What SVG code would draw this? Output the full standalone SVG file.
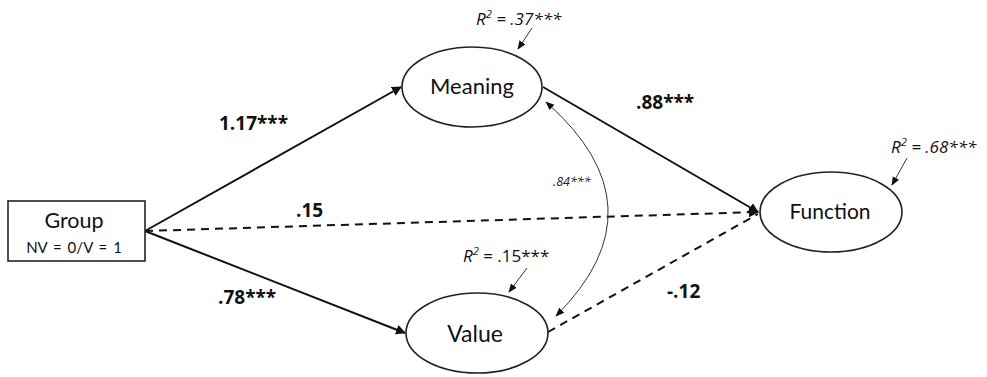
<svg xmlns="http://www.w3.org/2000/svg" width="987" height="377" viewBox="0 0 987 377">
<style>
.node{fill:#fff;stroke:#222;stroke-width:1.6}
.lbl{font-family:Lato,"Open Sans",sans-serif;fill:#111}
.coef{font-family:"Open Sans",sans-serif;font-weight:bold;font-size:19px;fill:#111}
.r2{font-family:"Open Sans",sans-serif;font-style:italic;font-size:17px;fill:#111}
.solid{stroke:#111;stroke-width:2;fill:none}
.dash{stroke:#111;stroke-width:2;fill:none;stroke-dasharray:8,6}
.thin{stroke:#333;stroke-width:1;fill:none}
</style>
<defs>
<marker id="ah" viewBox="0 0 10 10" refX="9" refY="5" markerWidth="5" markerHeight="5" orient="auto" markerUnits="strokeWidth"><path d="M0,0 L10,5 L0,10 z" fill="#111"/></marker>
<marker id="ahs" viewBox="0 0 10 10" refX="9" refY="5" markerWidth="9" markerHeight="9" orient="auto" markerUnits="strokeWidth"><path d="M0,1 L10,5 L0,9 z" fill="#111"/></marker>
<marker id="ahs0" viewBox="0 0 10 10" refX="1" refY="5" markerWidth="9" markerHeight="9" orient="auto" markerUnits="strokeWidth"><path d="M10,1 L0,5 L10,9 z" fill="#111"/></marker>
</defs>
<g id="connectors">
<line class="solid" x1="145" y1="231" x2="401" y2="87" marker-end="url(#ah)"/>
<line class="solid" x1="145" y1="231" x2="405" y2="333" marker-end="url(#ah)"/>
<line class="solid" x1="543" y1="87" x2="758" y2="212" marker-end="url(#ah)"/>
<line class="dash" x1="145" y1="231" x2="758" y2="212" marker-end="url(#ah)"/>
<line class="dash" x1="548" y1="332" x2="758" y2="214"/>
<path class="thin" d="M546,102 Q665,207 556,316" marker-start="url(#ahs0)" marker-end="url(#ahs)"/>
<line class="thin" x1="532" y1="28" x2="518" y2="49" marker-end="url(#ahs)"/>
<line class="thin" x1="907" y1="158" x2="892" y2="185" marker-end="url(#ahs)"/>
<line class="thin" x1="527" y1="268" x2="509" y2="292" marker-end="url(#ahs)"/>
</g>
<g id="group">
<rect class="node" x="8" y="201" width="137" height="60"/>
<text class="lbl" x="74" y="228" font-size="21.5" text-anchor="middle">Group</text>
<text class="lbl" x="74" y="253" font-size="15" word-spacing="2" text-anchor="middle">NV = 0/V = 1</text>
</g>
<g id="meaning">
<ellipse class="node" cx="472" cy="87" rx="70" ry="40"/>
<text class="lbl" x="472" y="94" font-size="22" text-anchor="middle">Meaning</text>
</g>
<g id="value">
<ellipse class="node" cx="477" cy="333" rx="71" ry="40"/>
<text class="lbl" x="475" y="342" font-size="23" text-anchor="middle">Value</text>
</g>
<g id="function">
<ellipse class="node" cx="831" cy="212" rx="71" ry="40"/>
<text class="lbl" x="830" y="219" font-size="21" text-anchor="middle">Function</text>
</g>
<g id="labels">
<text class="coef" x="219" y="130">1.17***</text>
<text class="coef" x="296" y="217">.15</text>
<text class="coef" x="218" y="304">.78***</text>
<text class="coef" x="636" y="109">.88***</text>
<text class="coef" x="667" y="298">-.12</text>
<text x="553" y="186" font-family="Open Sans,sans-serif" font-size="12.5" font-style="italic" fill="#222">.84***</text>
<text class="r2" x="476" y="25">R<tspan font-size="11" dy="-7">2</tspan><tspan dy="7"> = .37***</tspan></text>
<text class="r2" x="891" y="153">R<tspan font-size="11" dy="-7">2</tspan><tspan dy="7"> = .68***</tspan></text>
<text class="r2" x="463" y="262">R<tspan font-size="11" dy="-7">2</tspan><tspan dy="7" font-style="normal"> = .15***</tspan></text>
</g>
</svg>
